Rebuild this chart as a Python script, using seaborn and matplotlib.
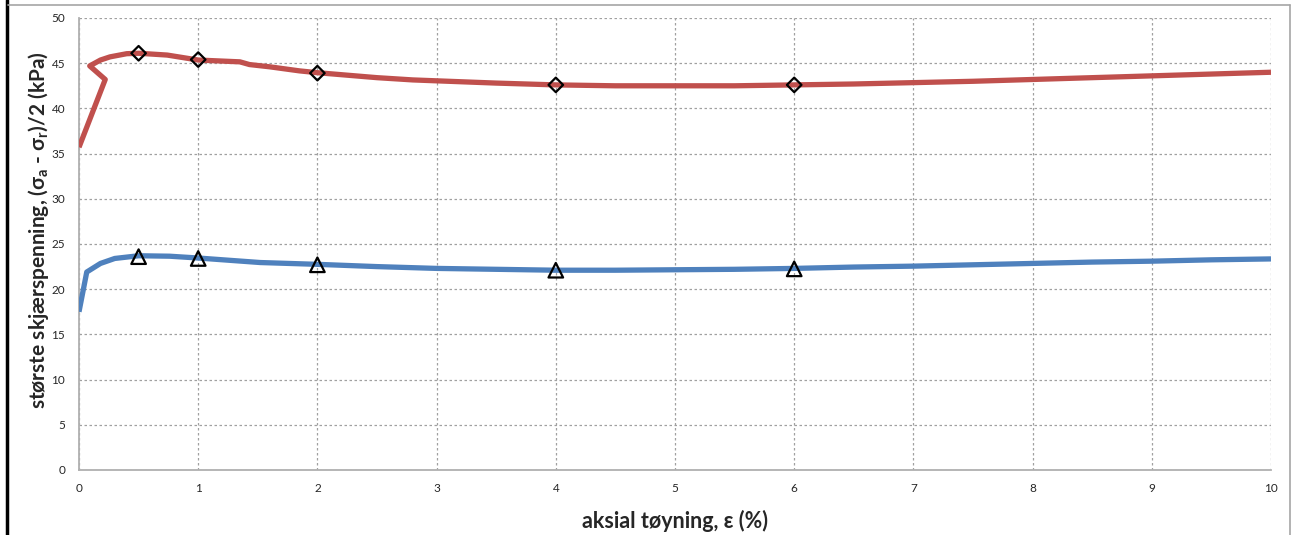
import matplotlib
matplotlib.use("Agg")
import matplotlib.pyplot as plt
import seaborn as sns
import pandas as pd
from matplotlib.lines import Line2D

# ---------------- data ----------------
red_x = [0.0, 0.22, 0.09, 0.18, 0.26, 0.40, 0.50, 0.74, 1.0, 1.35, 1.43, 1.6, 1.85, 2.0, 2.5, 2.8, 3.0,
         3.5, 4.0, 4.5, 5.0, 5.5, 6.0, 6.5, 7.0, 7.5, 8.0, 8.5, 9.0, 9.5, 10.0]
red_y = [35.7, 43.2, 44.7, 45.35, 45.7, 46.05, 46.1, 45.9, 45.35, 45.15, 44.85, 44.6, 44.15, 43.95, 43.4, 43.15, 43.05,
         42.8, 42.6, 42.5, 42.5, 42.5, 42.6, 42.7, 42.85, 43.0, 43.2, 43.4, 43.6, 43.8, 44.0]

blue_x = [0.0, 0.065, 0.18, 0.30, 0.50, 0.76, 1.0, 1.52, 2.0, 2.5, 3.0, 3.5, 4.0, 4.5, 5.0, 5.5, 6.0,
          6.5, 7.0, 7.5, 8.0, 8.5, 9.0, 9.5, 10.0]
blue_y = [17.5, 21.9, 22.85, 23.4, 23.7, 23.65, 23.45, 22.95, 22.75, 22.5, 22.3, 22.2, 22.1, 22.1, 22.15, 22.2, 22.3,
          22.45, 22.55, 22.7, 22.85, 23.0, 23.1, 23.25, 23.35]

marker_x = [0.5, 1, 2, 4, 6]
red_marker_y = [46.1, 45.4, 43.9, 42.6, 42.6]
blue_marker_y = [23.6, 23.4, 22.7, 22.1, 22.25]

x_ticks = list(range(0, 11))
y_ticks = list(range(0, 51, 5))

red_col = "#C0504D"
blue_col = "#4F81BD"

# ---------------- style ----------------
sns.set_theme(style="white")
plt.rcParams["font.family"] = ["Lato", "DejaVu Sans"]
plt.rcParams["mathtext.fontset"] = "custom"
plt.rcParams["mathtext.rm"] = "Lato"
plt.rcParams["mathtext.bf"] = "Lato:bold"

fig = plt.figure(figsize=(12.96, 5.35), dpi=100)
ax = fig.add_axes([79 / 1296, 65 / 535, (1271 - 79) / 1296, (470 - 18) / 535])

red_df = pd.DataFrame({"x": red_x, "y": red_y})
blue_df = pd.DataFrame({"x": blue_x, "y": blue_y})

sns.lineplot(data=red_df, x="x", y="y", sort=False, color=red_col, linewidth=3.8, ax=ax,
             solid_capstyle="butt", zorder=3)
sns.lineplot(data=blue_df, x="x", y="y", sort=False, color=blue_col, linewidth=3.8, ax=ax,
             solid_capstyle="butt", zorder=3)

sns.scatterplot(x=marker_x, y=red_marker_y, marker="D", s=55, facecolor="none",
                edgecolor="black", linewidth=1.6, ax=ax, zorder=4)
sns.scatterplot(x=marker_x, y=blue_marker_y, marker="^", s=110, facecolor="none",
                edgecolor="black", linewidth=1.6, ax=ax, zorder=4)

ax.set_xlim(0, 10)
ax.set_ylim(0, 50)
ax.set_xticks(x_ticks)
ax.set_yticks(y_ticks)
ax.set_xticklabels([str(t) for t in x_ticks])
ax.set_yticklabels([str(t) for t in y_ticks])
ax.tick_params(axis="both", length=0, labelsize=8.5, colors="#262626")
ax.tick_params(axis="x", pad=9)
ax.tick_params(axis="y", pad=10)

ax.grid(True, color="#A0A0A0", linestyle=(0, (2, 2)), linewidth=0.9)
for side in ["top", "right"]:
    ax.spines[side].set_visible(False)
for side in ["left", "bottom"]:
    ax.spines[side].set_color("#B0B0B0")
    ax.spines[side].set_linewidth(1.3)
    ax.spines[side].set_zorder(2.5)

ax.set_xlabel("aksial tøyning, ε (%)", fontsize=15.5, fontweight="bold", labelpad=12)
ax.set_ylabel(r"største skjærspenning, (σ$_\mathbf{a}$ - σ$_\mathbf{r}$)/2 (kPa)",
              fontsize=15.0, fontweight="bold")
ax.yaxis.set_label_coords(-0.0235, 0.531)

# outer frame pieces
fig.add_artist(Line2D([6.5 / 1296, 6.5 / 1296], [0, 1], color="black", linewidth=2.5))
fig.add_artist(Line2D([8 / 1296, 1290 / 1296], [1 - 4.5 / 535, 1 - 4.5 / 535], color="#A6A6A6", linewidth=1.2))
fig.add_artist(Line2D([1290 / 1296, 1290 / 1296], [0, 1 - 4.5 / 535], color="#A6A6A6", linewidth=1.2))

fig.savefig("out.png", dpi=100)
